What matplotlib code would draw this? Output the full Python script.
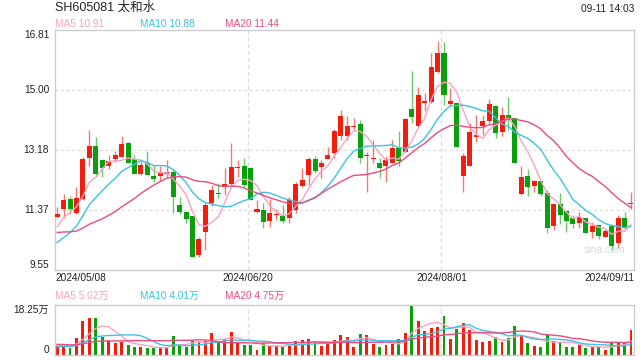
import numpy as np
import matplotlib
matplotlib.use("Agg")
import matplotlib.pyplot as plt

plt.rcParams['font.family'] = ['Liberation Sans', 'Noto Sans CJK SC', 'DejaVu Sans']

title = "SH605081 太和水"
timestamp = "09-11 14:03"

# OHLC (yuan) for 90 trading days 2024/05/08 - 2024/09/11
opens = [11.16, 11.385, 11.70, 11.26, 11.69, 12.95, 13.30, 12.88, 12.71, 12.91,
         12.98, 13.38, 12.90, 12.45, 12.78, 12.39, 12.39, 12.45, 12.52, 11.52,
         11.31, 11.18, 10.00, 10.69, 11.57, 11.87, 12.07, 12.15, 12.64, 12.70,
         12.65, 11.31, 11.36, 11.04, 11.21, 11.18, 11.11, 11.36, 12.09, 12.42,
         12.91, 12.68, 12.91, 13.10, 13.60, 13.60, 13.89, 13.97, 12.99, 12.90,
         12.78, 12.71, 12.80, 13.23, 13.13, 14.41, 13.92, 14.59, 14.64, 15.55,
         16.12, 14.56, 14.59, 12.40, 12.71, 13.56, 13.91, 14.07, 14.51, 13.73,
         14.24, 14.14, 11.85, 12.40, 12.10, 12.24, 11.87, 10.88, 11.55, 11.33,
         11.11, 10.98, 11.11, 10.71, 10.91, 10.56, 10.88, 10.36, 11.13, 11.54]
highs = [11.47, 11.85, 11.80, 12.05, 12.96, 13.79, 13.58, 12.90, 13.02, 13.16,
         13.60, 13.41, 13.03, 12.85, 13.16, 12.73, 12.70, 12.88, 12.60, 11.77,
         11.31, 11.18, 10.56, 11.57, 12.12, 12.17, 12.65, 13.38, 12.88, 12.93,
         12.68, 11.67, 11.57, 11.69, 11.41, 11.52, 11.77, 12.22, 12.65, 12.98,
         13.00, 12.88, 13.26, 13.81, 14.39, 14.21, 14.14, 14.09, 13.13, 13.48,
         12.93, 13.00, 13.48, 13.75, 14.16, 15.57, 15.10, 14.89, 16.12, 16.49,
         16.44, 15.05, 14.59, 13.08, 13.99, 14.24, 14.24, 14.72, 14.51, 14.49,
         14.79, 14.14, 12.70, 12.60, 12.27, 12.24, 11.97, 11.55, 11.87, 11.33,
         11.21, 11.31, 11.11, 11.01, 10.91, 10.78, 10.88, 11.21, 11.29, 11.90]
lows = [11.11, 11.11, 11.24, 11.24, 11.67, 12.71, 12.37, 12.37, 12.60, 12.83,
        12.96, 12.78, 12.45, 12.43, 12.42, 12.22, 12.25, 12.37, 11.26, 11.24,
        10.96, 9.95, 9.95, 10.17, 11.50, 11.72, 11.82, 12.12, 12.37, 12.07,
        11.67, 11.28, 10.81, 10.84, 11.06, 10.96, 10.96, 11.28, 12.07, 12.12,
        12.49, 12.32, 12.91, 12.93, 13.49, 13.49, 13.79, 12.80, 11.90, 12.80,
        12.34, 12.20, 12.80, 12.70, 13.13, 14.01, 13.89, 14.36, 14.61, 15.52,
        14.53, 14.51, 13.26, 11.92, 12.71, 13.43, 13.63, 13.99, 13.53, 13.60,
        13.78, 12.78, 11.82, 11.80, 11.92, 11.80, 10.66, 10.76, 10.94, 10.71,
        10.81, 10.83, 10.68, 10.51, 10.49, 10.54, 10.16, 10.21, 10.76, 11.41]
closes = [11.24, 11.67, 11.40, 11.73, 12.91, 13.30, 12.45, 12.63, 12.86, 13.03,
          13.36, 12.80, 12.45, 12.74, 12.42, 12.31, 12.52, 12.50, 11.77, 11.31,
          11.08, 9.95, 10.49, 11.52, 11.97, 11.86, 12.15, 12.68, 12.66, 12.12,
          11.67, 11.39, 11.01, 11.28, 11.24, 11.04, 11.67, 12.15, 12.27, 12.91,
          12.55, 12.78, 13.03, 13.75, 14.21, 13.91, 13.91, 12.93, 13.01, 12.92,
          12.63, 12.88, 13.23, 12.85, 14.12, 14.19, 14.84, 14.66, 15.70, 16.12,
          14.83, 14.66, 13.26, 12.99, 13.71, 13.63, 14.07, 14.57, 13.70, 14.24,
          14.14, 12.78, 12.37, 12.07, 12.24, 11.84, 10.81, 11.55, 11.21, 11.04,
          10.93, 11.14, 10.68, 10.88, 10.59, 10.73, 10.28, 11.13, 10.86, 11.55]
# closes of the 19 sessions before the window (for moving averages)
pre_closes = [11.4, 11.3, 11.2, 11.1, 11.0, 10.9, 10.9, 10.8, 10.7, 10.6,
              10.2, 9.9, 9.7, 9.8, 9.9, 10.3, 10.6, 10.9, 11.26]

# volume (万手)
volumes = [3.65, 3.65, 2.7, 6.3, 12.4, 13.6, 13.6, 6.7, 5.1, 4.3,
           4.9, 3.65, 3.0, 3.0, 2.4, 2.4, 2.7, 2.7, 7.1, 3.9,
           3.0, 5.1, 4.9, 5.2, 8.2, 4.9, 5.7, 8.5, 4.3, 3.65,
           3.65, 1.8, 4.3, 3.4, 3.4, 3.0, 3.65, 5.1, 5.5, 5.8,
           4.6, 3.3, 4.3, 5.5, 7.3, 6.6, 2.9, 7.7, 7.3, 4.0,
           2.9, 3.65, 4.0, 5.8, 8.2, 18.25, 12.4, 8.8, 10.0, 10.2,
           14.2, 5.8, 9.5, 11.8, 9.1, 5.5, 4.9, 5.1, 6.4, 4.9,
           6.3, 10.6, 7.1, 4.5, 3.3, 2.9, 7.3, 5.1, 4.9, 2.9,
           2.85, 3.65, 2.7, 2.9, 2.9, 1.8, 4.6, 4.9, 4.6, 9.2]
pre_volumes = [5.5, 5.2, 5.0, 4.9, 4.8, 4.7, 4.6, 4.5, 4.4, 4.4,
               2.8, 2.5, 2.4, 2.6, 2.7, 3.2, 3.3, 3.4, 3.45]

date_labels = ["2024/05/08", "2024/06/20", "2024/08/01", "2024/09/11"]
date_index = [0, 30, 60, 89]
price_ticks = [9.55, 11.37, 13.18, 15.00, 16.81]
vol_max = 18.25

RED, GREEN = '#F21D0D', '#0C9F0C'
RED_W, GREEN_W = '#F5796E', '#6CC86C'
C5, C10, C20 = '#F9A3C2', '#3CC3E2', '#EC4A80'
GRID = '#DDDDDD'
BORDER = '#CCCCCC'
TXT = '#222222'

o = np.array(opens); h = np.array(highs); l = np.array(lows); c = np.array(closes)
v = np.array(volumes)
n = len(c)
x = np.arange(n)
up = c >= o

def ma(pre, vals, k):
    s = np.concatenate([pre, vals])
    out = np.convolve(s, np.ones(k) / k, mode='valid')
    return out[-len(vals):]

fig = plt.figure(figsize=(6.4, 3.6), dpi=100)
fig.patch.set_facecolor('white')
L, W = 55 / 640, 579 / 640
ax = fig.add_axes([L, 90 / 360, W, 240 / 360])
axv = fig.add_axes([L, 5 / 360, W, 50 / 360])

xlim = (-0.33, 89.47)
# --- price panel
ax.set_xlim(*xlim)
ax.set_ylim(price_ticks[0], price_ticks[-1])
for yv in price_ticks[1:-1]:
    ax.axhline(yv, color=GRID, lw=1.0, ls=(0, (2, 2)), zorder=0)
for di in date_index[1:3]:
    ax.axvline(di - 0.4, color=GRID, lw=1.0, ls=(0, (3, 2)), zorder=0)
    axv.axvline(di - 0.4, color=GRID, lw=1.0, ls=(0, (3, 2)), zorder=0)

wcol = np.where(up, RED_W, GREEN_W)
bcol = np.where(up, RED, GREEN)
ax.vlines(x, l, h, colors=wcol, lw=1.0, zorder=2)
bot = np.minimum(o, c)
hgt = np.maximum(np.abs(c - o), 0.03)
ax.bar(x, hgt, bottom=bot, width=0.78, color=bcol, linewidth=0, zorder=3)

ma5, ma10, ma20 = ma(pre_closes, c, 5), ma(pre_closes, c, 10), ma(pre_closes, c, 20)
ax.plot(x, ma5, color=C5, lw=1.0, zorder=4)
ax.plot(x, ma10, color=C10, lw=1.0, zorder=4)
ax.plot(x, ma20, color=C20, lw=1.0, zorder=4)

ax.set_xticks([]); ax.set_yticks([])
for s in ax.spines.values():
    s.set_color(BORDER); s.set_linewidth(1.0)

fs = 7.3
for i, yv in enumerate(price_ticks):
    va = 'bottom' if i == 0 else ('top' if i == len(price_ticks) - 1 else 'center')
    ax.text(-0.01, yv, f"{yv:.2f}", transform=ax.get_yaxis_transform(),
            ha='right', va=va, fontsize=fs, color=TXT)

for i, (di, lab) in enumerate(zip(date_index, date_labels)):
    if i == 0:
        ax.text(0.0, -0.012, lab, transform=ax.transAxes, ha='left', va='top', fontsize=fs, color=TXT)
    elif i == len(date_index) - 1:
        ax.text(1.0, -0.012, lab, transform=ax.transAxes, ha='right', va='top', fontsize=fs, color=TXT)
    else:
        ax.text(di - 0.4, -0.012, lab, transform=ax.get_xaxis_transform(), ha='center', va='top',
                fontsize=fs, color=TXT)

ax.text(0.985, 0.085, "sina.com", transform=ax.transAxes, ha='right', va='center',
        fontsize=7.5, color='#D8D8D8', zorder=1)

# header
fig.text(55 / 640, 1 - 8 / 360, title, ha='left', va='center', fontsize=9, color=TXT)
fig.text(634 / 640, 1 - 9 / 360, timestamp, ha='right', va='center', fontsize=7.3, color=TXT)
ma_x = [55 / 640, 140 / 640, 225 / 640]
for xx, name, val, col in zip(ma_x, ['MA5', 'MA10', 'MA20'], [ma5[-1], ma10[-1], ma20[-1]], [C5, C10, C20]):
    fig.text(xx, 1 - 24 / 360, f"{name} {val:.2f}", ha='left', va='center', fontsize=7.3, color=col)

# --- volume panel
axv.set_xlim(*xlim)
axv.set_ylim(0, vol_max)
axv.bar(x, v, width=0.45, color=bcol, linewidth=0, zorder=2)
vm5, vm10, vm20 = ma(pre_volumes, v, 5), ma(pre_volumes, v, 10), ma(pre_volumes, v, 20)
axv.plot(x, vm5, color=C5, lw=1.0, zorder=3)
axv.plot(x, vm10, color=C10, lw=1.0, zorder=3)
axv.plot(x, vm20, color=C20, lw=1.0, zorder=3)
axv.set_xticks([]); axv.set_yticks([])
for k in ['top', 'bottom', 'left']:
    axv.spines[k].set_color(BORDER); axv.spines[k].set_linewidth(1.0)
    axv.spines[k].set_linestyle((0, (1, 1)))
axv.spines['right'].set_color(BORDER); axv.spines['right'].set_linewidth(1.0)
axv.text(-0.01, vol_max, f"{vol_max:.2f}万", transform=axv.get_yaxis_transform(),
         ha='right', va='top', fontsize=fs, color=TXT)
axv.text(-0.01, 0, "0", transform=axv.get_yaxis_transform(),
         ha='right', va='bottom', fontsize=fs, color=TXT)
for xx, name, val, col in zip(ma_x, ['MA5', 'MA10', 'MA20'], [vm5[-1], vm10[-1], vm20[-1]], [C5, C10, C20]):
    fig.text(xx, 1 - 296 / 360, f"{name} {val:.2f}万", ha='left', va='center', fontsize=7.3, color=col)

fig.savefig("out.png", dpi=100, facecolor='white')
